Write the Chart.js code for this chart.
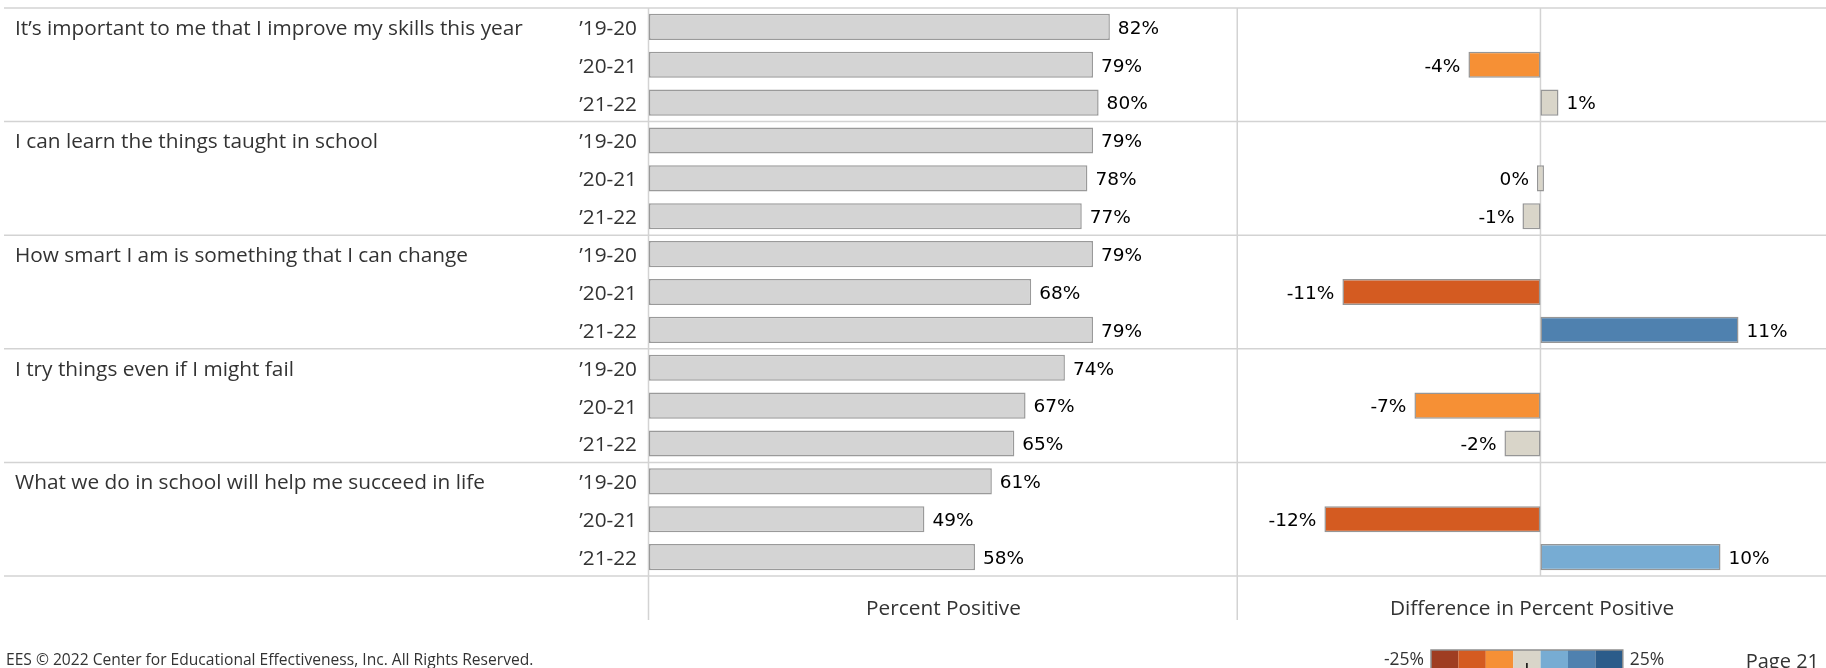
<!DOCTYPE html>
<html lang="en">

<head>
    <meta charset="UTF-8">
    <title>Growth Mindset - Percent Positive</title>
    <script src="https://cdn.jsdelivr.net/npm/chart.js"></script>
    <style>
        body { margin: 0; background: #fff; }
        #page { position: relative; width: 1826px; height: 668px; overflow: hidden; }
        #graficoPercent { position: absolute; left: 0; top: 0; }
        #graficoDiff { position: absolute; left: 1238px; top: 0; }
    </style>
</head>

<body>
    <div id="page">
        <canvas id="graficoPercent" width="1238" height="668"></canvas>
        <canvas id="graficoDiff" width="588" height="668"></canvas>
    </div>
</body>

</html>
<script>
    const questions = [
        'It’s important to me that I improve my skills this year',
        'I can learn the things taught in school',
        'How smart I am is something that I can change',
        'I try things even if I might fail',
        'What we do in school will help me succeed in life',
    ]
    const years = ['’19-20', '’20-21', '’21-22']

    // one row per question/year, in reading order
    const percentPositive = [82, 79, 80, 79, 78, 77, 79, 68, 79, 74, 67, 65, 61, 49, 58]
    const difference = [null, -4, 1, null, 0, -1, null, -11, 11, null, -7, -2, null, -12, 10]

    const legendRange = [-25, 25]
    const legendColors = ['#9f3d22', '#d45b21', '#f69035', '#d9d5c9', '#77acd3', '#4f81af', '#2b5c8a']

    const rowLabels = []
    questions.forEach(() => years.forEach(y => rowLabels.push(y)))

    const TEXT = '"Open Sans", sans-serif'
    const NUM = '"DejaVu Sans", sans-serif'
    const LINE = '#d3d3d3'

    function corDiferenca(v) {
        const step = (legendRange[1] - legendRange[0]) / legendColors.length
        let i = Math.floor((v - legendRange[0]) / step)
        i = Math.max(0, Math.min(legendColors.length - 1, i))
        return legendColors[i]
    }

    function linha(ctx, x1, y1, x2, y2) {
        ctx.beginPath()
        ctx.moveTo(x1, y1)
        ctx.lineTo(x2, y2)
        ctx.stroke()
    }

    function gruposY(chart) {
        const y = chart.scales.y
        const rowH = (chart.chartArea.bottom - chart.chartArea.top) / rowLabels.length
        const out = []
        for (let g = 0; g <= questions.length; g++) {
            out.push(y.getPixelForValue(g * years.length) - rowH / 2)
        }
        return out
    }

    // grid lines, question text, axis title and footer of the left panel
    const molduraPercent = {
        id: 'molduraPercent',
        beforeDraw(chart) {
            const { ctx, chartArea: a } = chart
            ctx.save()
            ctx.strokeStyle = LINE
            ctx.lineWidth = 1.5
            gruposY(chart).forEach(yy => linha(ctx, 4, yy, chart.width, yy))
            linha(ctx, a.left - 0.5, a.top, a.left - 0.5, 620)
            linha(ctx, chart.width - 0.75, a.top, chart.width - 0.75, 620)

            ctx.fillStyle = '#333'
            ctx.textBaseline = 'middle'
            ctx.font = `20.8px ${TEXT}`
            questions.forEach((q, g) => {
                ctx.fillText(q, 15, chart.scales.y.getPixelForValue(g * years.length) + 2)
            })
            ctx.textAlign = 'center'
            ctx.fillText('Percent Positive', (a.left + a.right) / 2, 609)
            ctx.textAlign = 'left'
            ctx.font = `15.6px ${TEXT}`
            ctx.fillText('EES © 2022 Center for Educational Effectiveness, Inc. All Rights Reserved.', 6, 661)
            ctx.restore()
        },
        afterDatasetsDraw(chart) {
            const { ctx } = chart
            ctx.save()
            ctx.fillStyle = '#000'
            ctx.font = `18.5px ${NUM}`
            ctx.textBaseline = 'middle'
            chart.getDatasetMeta(0).data.forEach((bar, i) => {
                ctx.fillText(`${percentPositive[i]}%`, bar.x + 8, bar.y + 2)
            })
            ctx.restore()
        }
    }

    // grid lines, zero line, axis title, colour legend and page number of the right panel
    const molduraDiff = {
        id: 'molduraDiff',
        beforeDraw(chart) {
            const { ctx, chartArea: a, scales: { x } } = chart
            ctx.save()
            ctx.strokeStyle = LINE
            ctx.lineWidth = 1.5
            gruposY(chart).forEach(yy => linha(ctx, 0, yy, chart.width, yy))
            const x0 = x.getPixelForValue(0)
            linha(ctx, x0, a.top, x0, a.bottom)

            ctx.fillStyle = '#333'
            ctx.textBaseline = 'middle'
            ctx.textAlign = 'center'
            ctx.font = `20.8px ${TEXT}`
            ctx.fillText('Difference in Percent Positive', (a.left + a.right) / 2, 609)

            const lx = 193, ly = 650, cw = 27.4, ch = 20
            legendColors.forEach((c, i) => {
                ctx.fillStyle = c
                ctx.fillRect(lx + i * cw, ly, cw, ch)
            })
            ctx.strokeStyle = '#8f8f8f'
            ctx.lineWidth = 1.5
            ctx.strokeRect(lx, ly, cw * legendColors.length, ch)
            ctx.strokeStyle = '#000'
            ctx.lineWidth = 1.5
            linha(ctx, lx + cw * 3.5, 663, lx + cw * 3.5, 668)

            ctx.fillStyle = '#333'
            ctx.font = `17.5px ${TEXT}`
            ctx.textAlign = 'right'
            ctx.fillText(`${legendRange[0]}%`, lx - 7, 660)
            ctx.textAlign = 'left'
            ctx.fillText(`${legendRange[1]}%`, lx + cw * legendColors.length + 7, 660)
            ctx.textAlign = 'right'
            ctx.font = `20px ${TEXT}`
            ctx.fillText('Page 21', chart.width - 7, 662)
            ctx.restore()
        },
        afterDatasetsDraw(chart) {
            const { ctx } = chart
            ctx.save()
            ctx.fillStyle = '#000'
            ctx.font = `18.5px ${NUM}`
            ctx.textBaseline = 'middle'
            chart.getDatasetMeta(0).data.forEach((bar, i) => {
                const v = difference[i]
                if (v === null) return
                if (v > 0) {
                    ctx.textAlign = 'left'
                    ctx.fillText(`${v}%`, Math.max(bar.x, bar.base) + 8, bar.y + 2)
                } else {
                    ctx.textAlign = 'right'
                    ctx.fillText(`${v}%`, Math.min(bar.x, bar.base) - 8, bar.y + 2)
                }
            })
            ctx.restore()
        }
    }

    new Chart(
        graficoPercent,
        {
            type: 'bar',
            data: {
                labels: rowLabels,
                datasets: [{
                    data: percentPositive,
                    backgroundColor: '#d4d4d4',
                    borderColor: '#9a9a9a',
                    borderWidth: 1.5,
                    borderSkipped: false,
                    barPercentage: 0.69,
                    categoryPercentage: 1,
                }]
            },
            options: {
                indexAxis: 'y',
                responsive: false,
                animation: false,
                layout: { padding: { top: 8, bottom: 92, left: 0, right: 0 } },
                plugins: { legend: { display: false }, tooltip: { enabled: false } },
                scales: {
                    x: { display: false, min: 0, max: 104.8 },
                    y: {
                        afterFit(scale) {
                            scale.width = 649
                            scale.paddingTop = 0
                            scale.paddingBottom = 0
                        },
                        grid: { display: false, drawTicks: false },
                        border: { display: false },
                        ticks: { padding: 12, labelOffset: 2, color: '#333', font: { family: TEXT, size: 20.8 } }
                    }
                }
            },
            plugins: [molduraPercent]
        }
    )

    new Chart(
        graficoDiff,
        {
            type: 'bar',
            data: {
                labels: rowLabels,
                datasets: [{
                    data: difference,
                    backgroundColor: difference.map(v => v === null ? 'transparent' : corDiferenca(v)),
                    borderColor: '#969696',
                    borderWidth: 1.5,
                    borderSkipped: false,
                    minBarLength: 7,
                    barPercentage: 0.69,
                    categoryPercentage: 1,
                }]
            },
            options: {
                indexAxis: 'y',
                responsive: false,
                animation: false,
                layout: { padding: { top: 8, bottom: 92, left: 0, right: 0 } },
                plugins: { legend: { display: false }, tooltip: { enabled: false } },
                scales: {
                    x: { display: false, min: -16.8, max: 15.86 },
                    y: { display: false }
                }
            },
            plugins: [molduraDiff]
        }
    )
</script>
